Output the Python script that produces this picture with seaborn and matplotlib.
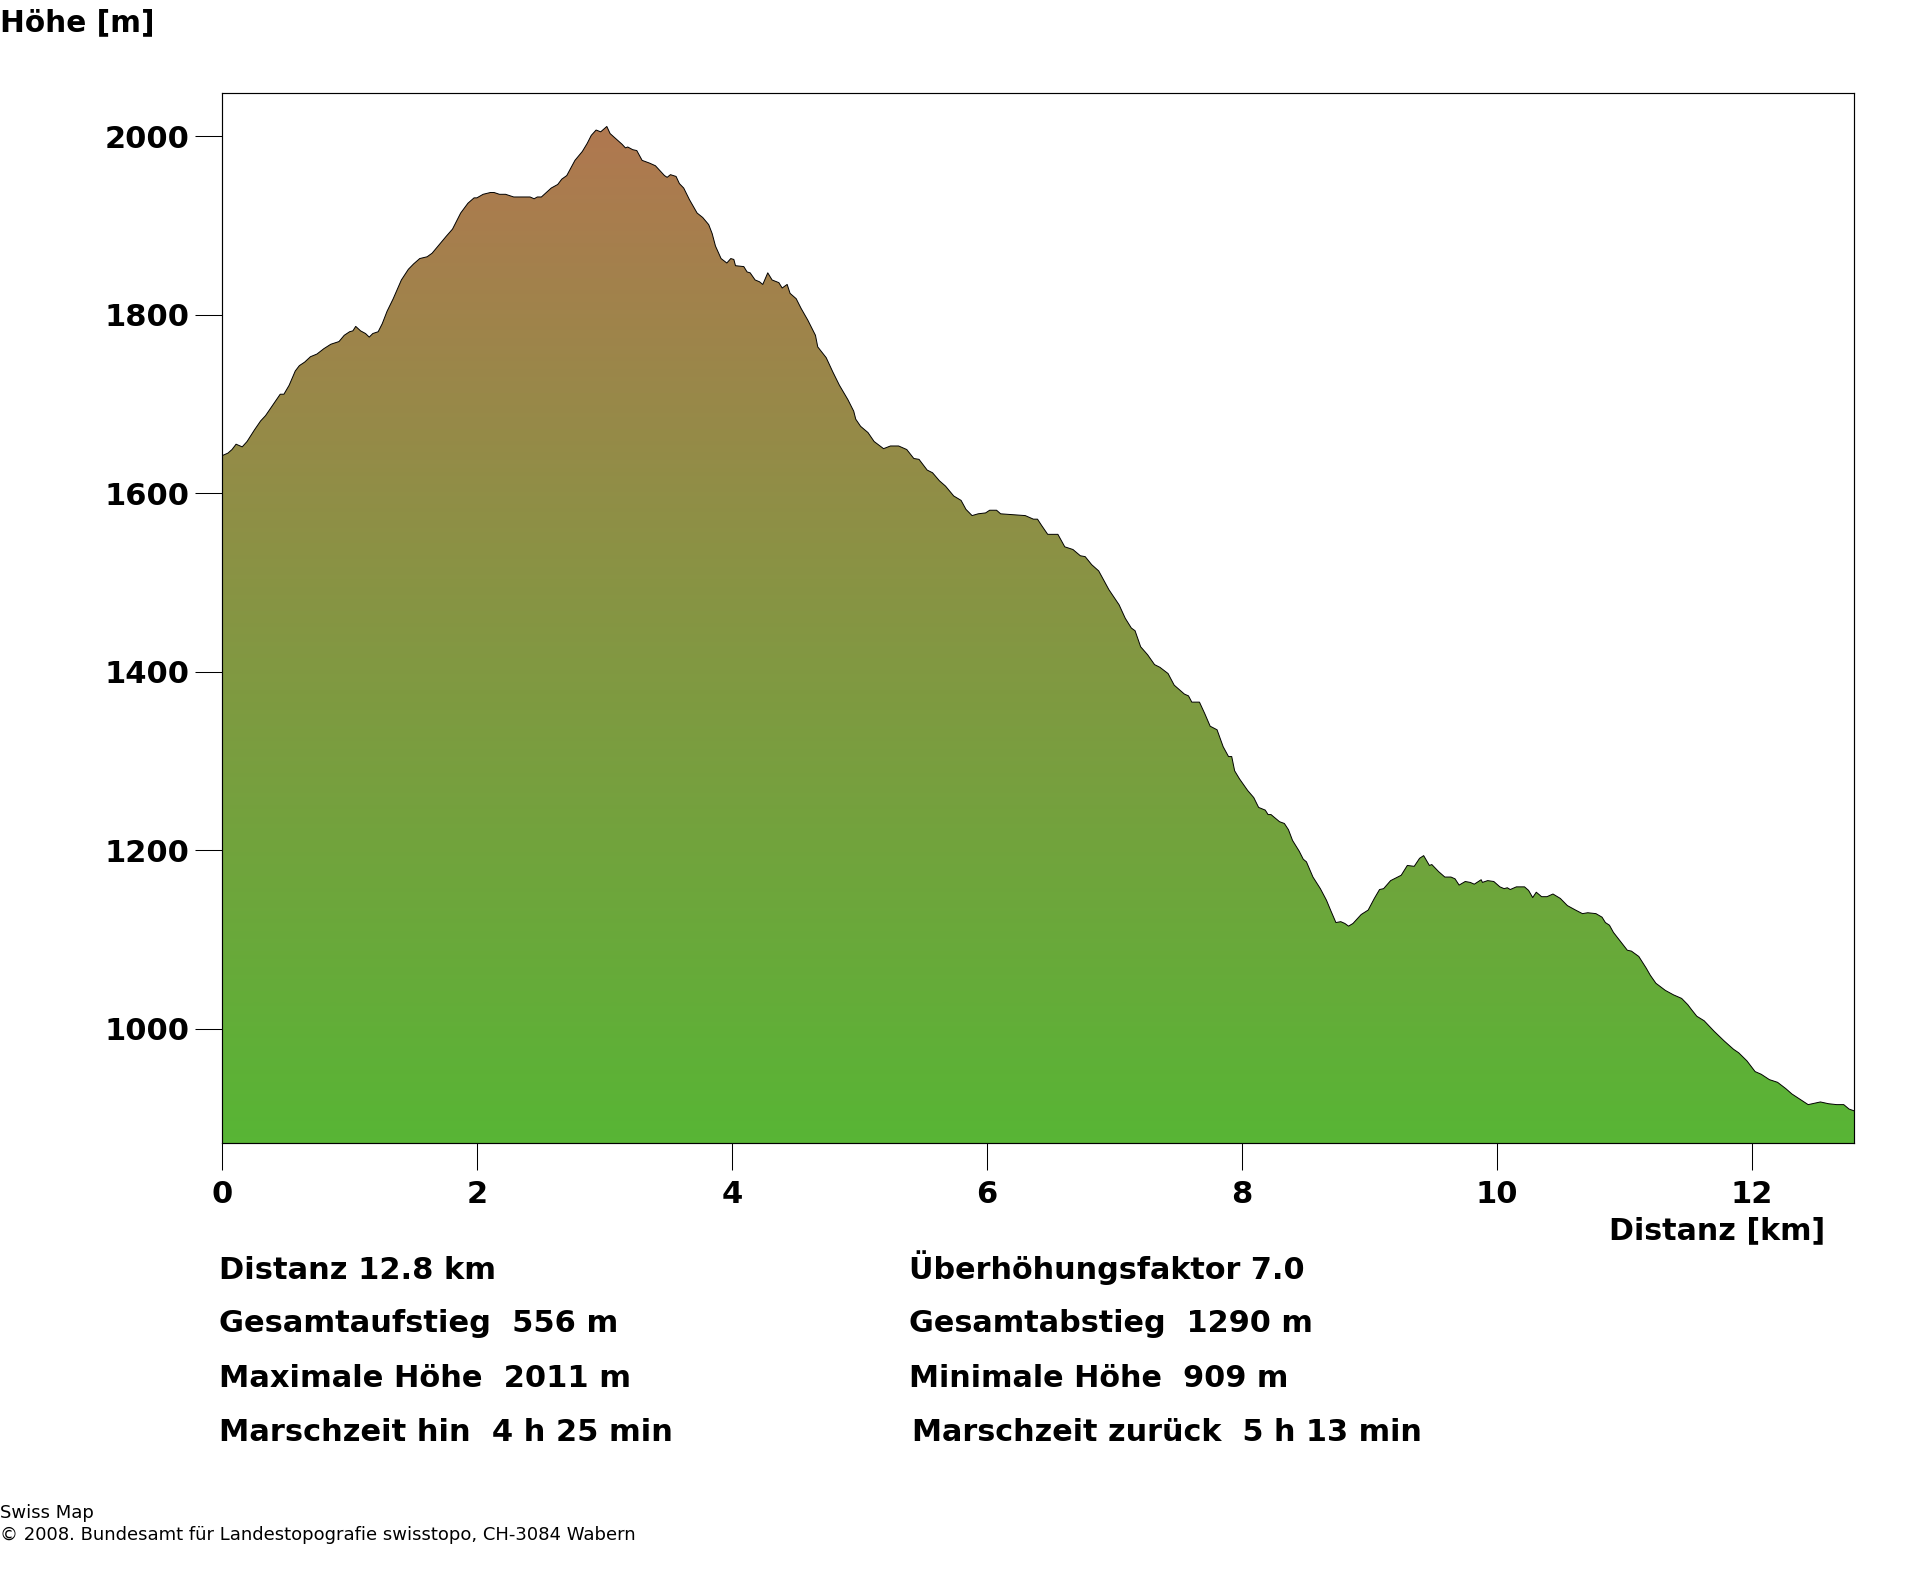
import matplotlib
matplotlib.use('Agg')
import matplotlib.pyplot as plt
from matplotlib.colors import LinearSegmentedColormap
import numpy as np
import pandas as pd
import seaborn as sns

dist_km = [0, .048, .08, .112, .16, .198, .256, .304, .343, .40, .458, .487, .528, .576, .608, .65, .695, .746, .80, .855,
           .919, .96, 1.002, 1.028, 1.05, 1.088, 1.127, 1.156, 1.184, 1.226, 1.258, 1.296, 1.344, 1.408, 1.463, 1.504,
           1.552, 1.61, 1.649, 1.696, 1.76, 1.809, 1.873, 1.93, 1.978, 2.0, 2.049, 2.106, 2.135, 2.177, 2.225, 2.289,
           2.369, 2.417, 2.449, 2.474, 2.506, 2.545, 2.583, 2.634, 2.666, 2.705, 2.769, 2.827, 2.865, 2.897, 2.935,
           2.971, 3.019, 3.045, 3.092, 3.139, 3.165, 3.183, 3.222, 3.254, 3.296, 3.353, 3.4, 3.432, 3.471, 3.492, 3.518,
           3.562, 3.588, 3.622, 3.667, 3.727, 3.771, 3.818, 3.845, 3.871, 3.915, 3.96, 3.991, 4.015, 4.028, 4.093, 4.119,
           4.143, 4.182, 4.216, 4.242, 4.281, 4.315, 4.368, 4.394, 4.433, 4.456, 4.504, 4.543, 4.595, 4.655, 4.673,
           4.739, 4.791, 4.843, 4.909, 4.955, 4.971, 5.009, 5.067, 5.115, 5.189, 5.243, 5.307, 5.371, 5.426, 5.467,
           5.531, 5.573, 5.627, 5.675, 5.739, 5.797, 5.835, 5.883, 5.931, 5.989, 6.021, 6.075, 6.107, 6.203, 6.3, 6.364,
           6.396, 6.428, 6.476, 6.556, 6.61, 6.674, 6.732, 6.77, 6.821, 6.876, 6.956, 7.036, 7.084, 7.132, 7.161, 7.205,
           7.26, 7.314, 7.356, 7.42, 7.468, 7.548, 7.58, 7.606, 7.666, 7.708, 7.75, 7.804, 7.852, 7.894, 7.919, 7.942,
           7.98, 8.044, 8.092, 8.13, 8.182, 8.204, 8.227, 8.294, 8.332, 8.364, 8.396, 8.448, 8.48, 8.505, 8.556, 8.614,
           8.662, 8.694, 8.736, 8.774, 8.806, 8.835, 8.87, 8.934, 8.989, 9.037, 9.078, 9.11, 9.165, 9.248, 9.296, 9.35,
           9.392, 9.424, 9.469, 9.488, 9.542, 9.59, 9.638, 9.67, 9.702, 9.75, 9.789, 9.821, 9.863, 9.875, 9.885, 9.926,
           9.974, 10.022, 10.055, 10.08, 10.103, 10.151, 10.215, 10.247, 10.279, 10.307, 10.349, 10.391, 10.438, 10.496,
           10.551, 10.615, 10.669, 10.711, 10.775, 10.823, 10.849, 10.881, 10.912, 10.967, 11.021, 11.053, 11.111,
           11.169, 11.201, 11.245, 11.319, 11.383, 11.447, 11.495, 11.527, 11.566, 11.623, 11.703, 11.783, 11.854,
           11.895, 11.959, 12.023, 12.071, 12.135, 12.199, 12.263, 12.311, 12.375, 12.439, 12.471, 12.535, 12.599,
           12.663, 12.718, 12.76, 12.8]
height_m = [1642, 1645, 1649, 1655, 1652, 1658, 1671, 1681, 1687, 1699, 1711, 1711, 1721, 1737, 1743, 1747, 1753, 1756, 1762, 1767,
            1770, 1777, 1781, 1782, 1787, 1782, 1779, 1775, 1779, 1781, 1790, 1804, 1818, 1839, 1851, 1857,
            1863, 1865, 1869, 1877, 1888, 1896, 1914, 1925, 1931, 1931, 1935, 1937, 1937, 1935, 1935, 1932,
            1932, 1932, 1930, 1932, 1932, 1937, 1942, 1946, 1952, 1956, 1973, 1983, 1992, 2001, 2007,
            2005, 2011, 2003, 1997, 1991, 1987, 1988, 1985, 1984, 1973, 1970, 1967, 1962, 1956, 1954, 1957,
            1955, 1947, 1942, 1929, 1914, 1909, 1901, 1891, 1877, 1863, 1858, 1863, 1862, 1855, 1854, 1848,
            1847, 1839, 1837, 1834, 1847, 1839, 1836, 1830, 1834, 1824, 1818, 1807, 1794, 1777, 1764,
            1752, 1736, 1721, 1705, 1692, 1683, 1675, 1668, 1658, 1650, 1653, 1653, 1649, 1639, 1638,
            1626, 1623, 1614, 1608, 1597, 1592, 1582, 1575, 1577, 1578, 1581, 1581, 1577, 1576, 1575, 1571,
            1571, 1564, 1554, 1554, 1540, 1537, 1530, 1529, 1520, 1513, 1492, 1475, 1460, 1449, 1446, 1428,
            1419, 1408, 1405, 1398, 1385, 1375, 1373, 1366, 1366, 1353, 1339, 1335, 1316, 1305, 1305, 1289,
            1280, 1267, 1259, 1248, 1245, 1240, 1240, 1232, 1230, 1223, 1211, 1199, 1190, 1187, 1170, 1157,
            1144, 1133, 1119, 1120, 1118, 1115, 1118, 1128, 1133, 1146, 1156, 1157, 1166, 1172, 1183, 1182,
            1191, 1194, 1183, 1184, 1176, 1170, 1170, 1168, 1161, 1165, 1164, 1162, 1166, 1167, 1164, 1166,
            1165, 1159, 1157, 1158, 1156, 1159, 1159, 1155, 1147, 1153, 1148, 1148, 1151, 1146,
            1138, 1133, 1129, 1130, 1129, 1125, 1119, 1116, 1108, 1098, 1088, 1087, 1081,
            1068, 1060, 1051, 1043, 1038, 1034, 1027, 1021, 1014, 1009, 997, 986, 977,
            973, 964, 952, 949, 943, 940, 933, 927, 921, 915, 916, 918, 916,
            915, 915, 910, 908]

x_ticks = [0, 2, 4, 6, 8, 10, 12]
y_ticks = [1000, 1200, 1400, 1600, 1800, 2000]

stats_left = ['Distanz 12.8 km', 'Gesamtaufstieg  556 m', 'Maximale Höhe  2011 m', 'Marschzeit hin  4 h 25 min']
stats_right = ['Überhöhungsfaktor 7.0', 'Gesamtabstieg  1290 m', 'Minimale Höhe  909 m', 'Marschzeit zurück  5 h 13 min']

W, H = 1920, 1572
LABEL_SIZE = 22

sns.set_theme(style='white')
plt.rcParams['font.family'] = ['DejaVu Sans']

df = pd.DataFrame({'dist': dist_km, 'height': height_m})

fig = plt.figure(figsize=(W / 100, H / 100), dpi=100, facecolor='white')
ax = fig.add_axes([221.8 / W, 1 - 1143 / H, (1854.2 - 221.8) / W, (1143 - 93) / H])

x_max, y_min, y_max = 12.8, 872, 2048.5

# gradient clipped to the area under the profile
area = ax.fill_between(df['dist'], df['height'], y_min, color='none', lw=0)
cmap = LinearSegmentedColormap.from_list('terrain_grad', ['#58b535', '#b07850'])
grad = ax.imshow(np.linspace(0, 1, 256)[::-1].reshape(-1, 1), cmap=cmap, aspect='auto', interpolation='bilinear',
                 extent=[0, x_max, y_min, max(height_m)], zorder=1)
grad.set_clip_path(area.get_paths()[0], transform=ax.transData)

sns.lineplot(data=df, x='dist', y='height', color='black', lw=0.7, ax=ax, zorder=2, errorbar=None)

ax.set_xlim(0, x_max)
ax.set_ylim(y_min, y_max)
ax.set_xticks(x_ticks)
ax.set_yticks(y_ticks)
ax.set_xlabel('')
ax.set_ylabel('')
ax.tick_params(axis='x', bottom=True, length=19.5, width=0.75, color='black', pad=7, labelsize=LABEL_SIZE, labelcolor='black')
ax.tick_params(axis='y', left=True, length=19.5, width=0.75, color='black', pad=4, labelsize=LABEL_SIZE, labelcolor='black')
for lab in ax.get_xticklabels() + ax.get_yticklabels():
    lab.set_fontweight('bold')
for sp in ax.spines.values():
    sp.set_visible(True)
    sp.set_color('black')
    sp.set_linewidth(0.85)


def put(x, y, s, size=LABEL_SIZE, weight='bold'):
    fig.text(x / W, 1 - y / H, s, fontsize=size, fontweight=weight, color='black', ha='left', va='baseline')


put(0, 31, 'Höhe [m]', size=21.3)
put(1609, 1239, 'Distanz [km]', size=21.7)

rows = [1279, 1332, 1387, 1441]
for y, s in zip(rows, stats_left):
    put(219, y, s)
for y, s, x in zip(rows, stats_right, [909, 909, 909, 912]):
    put(x, y, s, size=21.8)

put(0, 1518, 'Swiss Map', size=13, weight='normal')
put(0, 1540, '© 2008. Bundesamt für Landestopografie swisstopo, CH-3084 Wabern', size=13, weight='normal')

plt.savefig('out.png', dpi=100)
